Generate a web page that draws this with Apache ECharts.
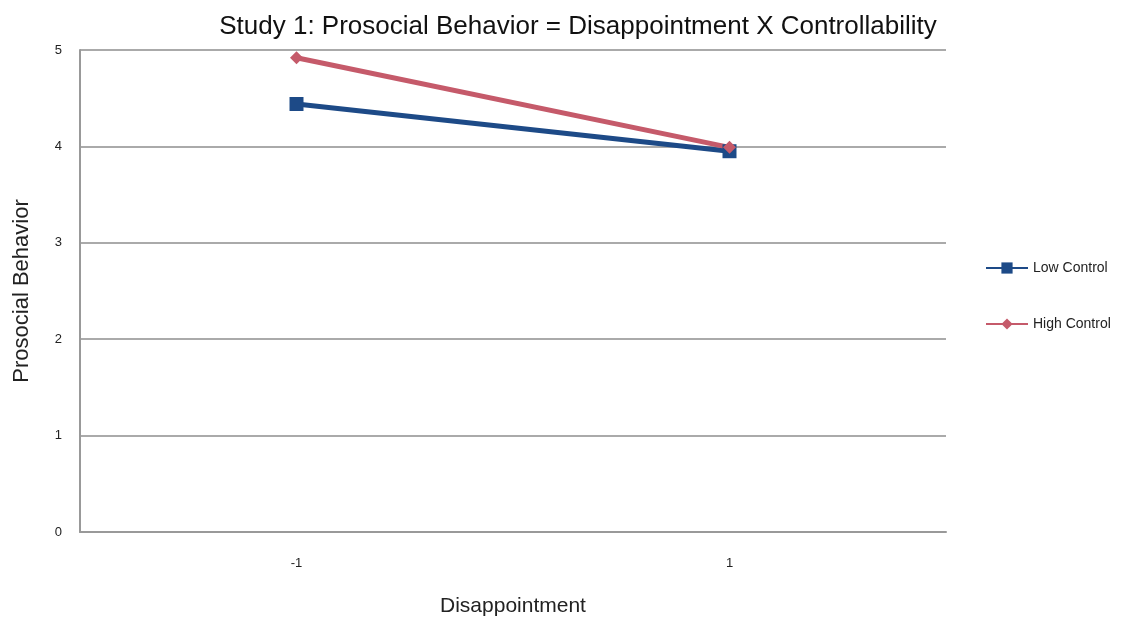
<!DOCTYPE html>
<html>
<head>
<meta charset="utf-8">
<script src="https://cdn.jsdelivr.net/npm/echarts@6/dist/echarts.min.js"></script>
<style>
html,body{margin:0;padding:0;background:#fff;}
#chart{width:1126px;height:626px;}
</style>
</head>
<body>
<div id="chart"></div>
<script>
const categories = ['-1', '1'];
const lowControl = [4.44, 3.95];
const highControl = [4.92, 3.99];
const yTicks = [0, 1, 2, 3, 4, 5];

const chart = echarts.init(document.getElementById('chart'), null, {renderer: 'canvas'});
const font = '"Liberation Sans", Arial, sans-serif';
chart.setOption({
  animation: false,
  backgroundColor: '#ffffff',
  title: {
    text: 'Study 1: Prosocial Behavior = Disappointment X Controllability',
    left: 573, top: 9, textAlign: 'center',
    textStyle: {fontFamily: font, fontSize: 26, fontWeight: 'normal', color: '#111'}
  },
  legend: {
    orient: 'vertical', left: 980, top: 256, itemGap: 42, itemWidth: 42, itemHeight: 14,
    textStyle: {fontFamily: font, fontSize: 14, color: '#222'},
    data: ['Low Control', 'High Control']
  },
  grid: {left: 80, right: 180, top: 50, bottom: 94},
  xAxis: {
    type: 'category', data: categories, boundaryGap: true,
    name: 'Disappointment', nameLocation: 'middle', nameGap: 64,
    nameTextStyle: {fontFamily: font, fontSize: 21, color: '#222'},
    axisLine: {lineStyle: {color: '#999', width: 2}},
    axisTick: {show: false},
    axisLabel: {fontFamily: font, fontSize: 13, color: '#222', margin: 25}
  },
  yAxis: {
    type: 'value', min: 0, max: 5, interval: 1,
    name: 'Prosocial Behavior', nameLocation: 'middle', nameGap: 47,
    nameTextStyle: {fontFamily: font, fontSize: 22, color: '#222'},
    axisLine: {show: true, lineStyle: {color: '#999', width: 2}},
    axisTick: {show: false},
    axisLabel: {fontFamily: font, fontSize: 13, color: '#222', margin: 18},
    splitLine: {lineStyle: {color: '#aaa', width: 2}}
  },
  series: [
    {
      name: 'Low Control', type: 'line', data: lowControl,
      symbol: 'rect', symbolSize: 14,
      lineStyle: {color: '#1d4a87', width: 5},
      itemStyle: {color: '#1d4a87'}
    },
    {
      name: 'High Control', type: 'line', data: highControl,
      symbol: 'diamond', symbolSize: 13,
      lineStyle: {color: '#c55a6a', width: 5},
      itemStyle: {color: '#c55a6a'}
    }
  ]
});
</script>
</body>
</html>
